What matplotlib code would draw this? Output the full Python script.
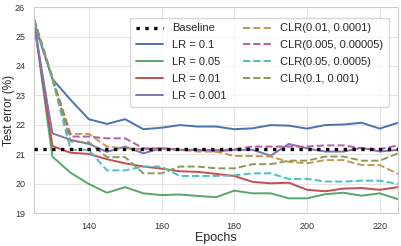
import matplotlib
matplotlib.use("Agg")
import matplotlib.pyplot as plt
import seaborn as sns

epochs = list(range(125, 226, 5))
baseline = 21.17

lr_01 = [25.45, 23.56, 22.85, 22.19, 22.03, 22.19, 21.85, 21.9, 21.99, 21.94, 21.94,
         21.85, 21.88, 21.99, 21.97, 21.87, 21.99, 22.01, 22.07, 21.87, 22.07]
lr_005 = [25.5, 20.92, 20.37, 19.99, 19.69, 19.88, 19.67, 19.61, 19.63, 19.58, 19.54,
          19.76, 19.67, 19.67, 19.5, 19.5, 19.64, 19.69, 19.59, 19.67, 19.47]
lr_001 = [25.5, 21.28, 21.05, 21.01, 20.83, 20.69, 20.58, 20.51, 20.42, 20.4, 20.33,
          20.26, 20.06, 20.01, 20.03, 19.79, 19.74, 19.83, 19.85, 19.79, 19.88]
lr_0001 = [25.4, 21.71, 21.49, 21.35, 21.08, 21.26, 21.03, 21.2, 21.15, 21.15, 21.09,
           21.15, 21.15, 20.95, 21.35, 21.2, 21.09, 21.09, 21.22, 21.09, 21.15]
clr_a = [25.55, 23.62, 21.69, 21.69, 21.26, 21.2, 21.17, 21.17, 21.15, 21.09, 21.09,
         20.94, 20.94, 20.92, 20.74, 20.69, 20.8, 20.8, 20.63, 20.63, 20.33]
clr_b = [25.55, 23.58, 21.6, 21.6, 21.54, 21.54, 21.2, 21.2, 21.15, 21.15, 21.14,
         21.17, 21.26, 21.26, 21.26, 21.26, 21.3, 21.3, 21.2, 21.17, 21.3]
clr_c = [25.55, 23.55, 21.15, 21.15, 20.45, 20.45, 20.58, 20.58, 20.26, 20.26, 20.26,
         20.28, 20.35, 20.35, 20.16, 20.16, 20.07, 20.07, 20.1, 20.1, 19.99]
clr_d = [25.6, 23.6, 21.43, 21.41, 20.9, 20.9, 20.35, 20.35, 20.58, 20.58, 20.52,
         20.52, 20.66, 20.66, 20.78, 20.78, 20.92, 20.92, 20.78, 20.78, 21.03]

sns.set_style("whitegrid")
plt.rcParams['font.family'] = ['Liberation Sans', 'DejaVu Sans']

fig = plt.figure(figsize=(4.02, 2.46), dpi=100)
ax = fig.add_axes([0.085, 0.134, 0.905, 0.837])

ax.axhline(baseline, color='black', linestyle=':', lw=2.4, label='Baseline', zorder=5)
ax.plot(epochs, lr_01, color='#4C72B0', lw=1.4, label='LR = 0.1')
ax.plot(epochs, lr_005, color='#55A868', lw=1.4, label='LR = 0.05')
ax.plot(epochs, lr_001, color='#C44E52', lw=1.4, label='LR = 0.01')
ax.plot(epochs, lr_0001, color='#8172B2', lw=1.4, label='LR = 0.001')
ax.plot(epochs, clr_a, color='#C8964C', lw=1.4, ls='--', label='CLR(0.01, 0.0001)')
ax.plot(epochs, clr_b, color='#B55DA8', lw=1.4, ls='--', label='CLR(0.005, 0.00005)')
ax.plot(epochs, clr_c, color='#4BC0C0', lw=1.4, ls='--', label='CLR(0.05, 0.0005)')
ax.plot(epochs, clr_d, color='#8C9A5A', lw=1.4, ls='--', label='CLR(0.1, 0.001)')

ax.set_xlim(125, 225)
ax.set_ylim(19, 26)
ax.set_xticks([140, 160, 180, 200, 220])
ax.set_yticks([19, 20, 21, 22, 23, 24, 25, 26])
ax.tick_params(labelsize=6.5, colors='#333333', pad=3)
ax.set_xlabel('Epochs', fontsize=9, labelpad=1)
ax.set_ylabel('Test error (%)', fontsize=8.5)
ax.yaxis.set_label_coords(-0.054, 0.5)
for s in ax.spines.values():
    s.set_color('#cccccc')
    s.set_linewidth(0.8)
ax.grid(color='#e6e6e6', lw=0.8)

leg = ax.legend(ncol=2, loc='upper right', fontsize=8, handlelength=2.5,
                columnspacing=1.5, labelspacing=0.62, borderpad=0.5,
                frameon=True, bbox_to_anchor=(0.99, 0.975))
leg.get_frame().set_edgecolor('#cccccc')

fig.savefig('out.png', dpi=100)
